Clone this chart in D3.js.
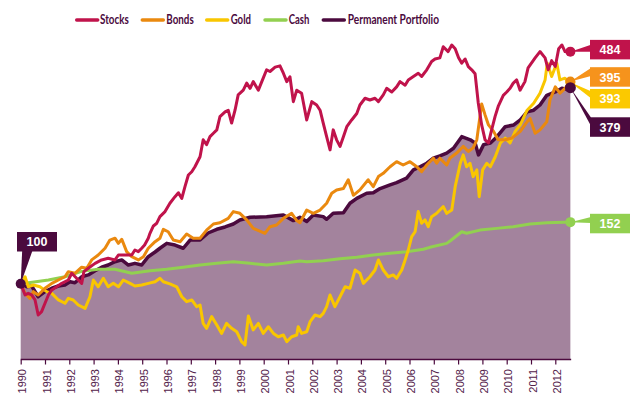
<!DOCTYPE html>
<html><head><meta charset="utf-8">
<script src="https://cdn.jsdelivr.net/npm/d3@7"></script>
<style>body{margin:0;background:#fff}svg{display:block}</style>
</head><body>
<svg id="chart" width="641" height="401"></svg>
<script>
// ---------- DATA (index, Jan 1990 = 100) ----------
const tickYears = d3.range(1990, 2013);
const seriesNames = ["Stocks", "Bonds", "Gold", "Cash", "Permanent Portfolio"];
const startValue = 100;
const endValues = [484, 395, 393, 152, 379];

const stocks = [[1990.00,100],[1990.18,92.7],[1990.31,93.7],[1990.45,92.7],[1990.59,89.6],[1990.72,80.9],[1990.86,82.8],[1991.00,87.6],[1991.14,92.7],[1991.28,95.9],[1991.48,98.0],[1991.69,100.3],[1991.96,102.6],[1992.10,107.4],[1992.30,103.8],[1992.51,100.3],[1992.60,108.6],[1992.78,111.1],[1993.06,114.9],[1993.33,117.6],[1993.60,118.9],[1993.88,117.6],[1994.02,121.6],[1994.29,121.6],[1994.57,121.6],[1994.70,125.8],[1994.84,124.4],[1994.98,127.3],[1995.10,130.1],[1995.25,136.3],[1995.32,140.9],[1995.46,148.1],[1995.60,150.9],[1995.73,157.8],[1995.94,163.3],[1996.14,172.8],[1996.35,180.7],[1996.49,185.6],[1996.63,178.6],[1996.76,193.4],[1996.90,209.4],[1997.04,214.1],[1997.17,221.5],[1997.38,237.0],[1997.51,265.9],[1997.65,257.3],[1997.79,271.7],[1997.93,278.0],[1998.07,284.5],[1998.20,311.2],[1998.41,321.4],[1998.54,325.1],[1998.68,297.9],[1998.82,325.1],[1998.95,360.9],[1999.16,372.5],[1999.30,390.8],[1999.44,377.2],[1999.57,394.8],[1999.78,372.5],[1999.98,404.2],[2000.12,427.8],[2000.26,422.9],[2000.47,435.6],[2000.67,439.5],[2000.81,418.0],[2000.95,394.8],[2001.08,408.1],[2001.22,344.6],[2001.36,372.5],[2001.56,365.0],[2001.77,304.3],[2001.98,344.6],[2002.18,336.8],[2002.32,325.1],[2002.45,297.9],[2002.59,271.7],[2002.73,248.3],[2002.86,284.5],[2003.00,265.9],[2003.14,254.2],[2003.28,271.7],[2003.42,290.6],[2003.62,304.3],[2003.83,318.0],[2003.96,336.8],[2004.17,352.6],[2004.37,348.5],[2004.58,352.6],[2004.72,344.6],[2004.92,360.9],[2005.06,377.2],[2005.27,368.0],[2005.47,381.0],[2005.61,394.8],[2005.82,385.4],[2005.95,399.4],[2006.16,408.7],[2006.36,418.0],[2006.50,408.7],[2006.71,427.8],[2006.91,452.5],[2007.05,460.4],[2007.25,464.0],[2007.39,500.2],[2007.59,484.2],[2007.74,506.4],[2007.88,493.9],[2008.02,464.0],[2008.15,447.6],[2008.29,460.4],[2008.42,437.3],[2008.56,427.8],[2008.70,416.3],[2008.83,341.4],[2008.97,294.2],[2009.11,265.9],[2009.25,260.3],[2009.38,284.5],[2009.52,311.2],[2009.65,333.5],[2009.86,359.7],[2010.00,368.0],[2010.14,377.2],[2010.27,390.8],[2010.41,399.4],[2010.55,372.5],[2010.75,394.8],[2010.88,433.6],[2011.17,464.0],[2011.37,484.2],[2011.58,464.0],[2011.71,427.8],[2011.85,455.2],[2012.00,437.3],[2012.14,493.9],[2012.27,506.4],[2012.40,484.2],[2012.62,484]];

const bonds = [[1990.00,100],[1990.18,93.7],[1990.38,90.6],[1990.52,94.8],[1990.72,92.7],[1991.00,97.0],[1991.28,100.3],[1991.55,102.6],[1991.82,104.9],[1991.96,108.6],[1992.23,107.4],[1992.51,111.9],[1992.72,111.1],[1992.92,117.6],[1993.19,121.6],[1993.47,127.3],[1993.67,134.6],[1993.88,136.3],[1994.02,131.6],[1994.16,135.3],[1994.36,124.4],[1994.57,120.2],[1994.84,117.6],[1995.05,120.2],[1995.25,127.3],[1995.53,133.1],[1995.73,136.3],[1995.87,144.8],[1996.07,142.4],[1996.28,134.6],[1996.56,133.1],[1996.83,140.2],[1997.10,136.3],[1997.38,136.3],[1997.65,144.0],[1997.93,150.1],[1998.20,151.4],[1998.54,156.0],[1998.75,163.3],[1999.02,161.4],[1999.30,154.3],[1999.57,145.7],[2000.05,140.9],[2000.26,147.4],[2000.53,149.1],[2000.81,156.0],[2001.15,161.4],[2001.36,153.6],[2001.49,151.4],[2001.77,165.0],[2002.04,161.4],[2002.32,165.0],[2002.59,172.8],[2002.80,184.9],[2003.00,189.2],[2003.28,191.0],[2003.48,202.7],[2003.69,182.4],[2003.96,189.2],[2004.30,202.7],[2004.51,193.4],[2004.72,207.1],[2004.92,211.8],[2005.20,221.5],[2005.47,229.2],[2005.74,224.1],[2006.02,229.2],[2006.30,221.5],[2006.50,214.1],[2006.71,224.1],[2006.98,234.7],[2007.12,226.8],[2007.25,234.7],[2007.53,224.1],[2007.67,235.1],[2007.94,243.0],[2008.21,254.2],[2008.42,245.6],[2008.62,251.8],[2008.77,265.9],[2008.97,339.1],[2009.11,314.9],[2009.25,294.2],[2009.46,281.6],[2009.65,265.9],[2009.94,265.9],[2010.21,268.9],[2010.56,281.6],[2010.84,300.6],[2010.96,307.6],[2011.17,278.0],[2011.37,284.5],[2011.65,300.6],[2011.78,348.5],[2012.00,381.0],[2012.19,365.0],[2012.40,377.2],[2012.62,395]];

const gold = [[1990.00,100],[1990.18,104.9],[1990.31,98.0],[1990.52,99.2],[1990.79,98.0],[1991.07,94.8],[1991.28,93.7],[1991.55,89.6],[1991.82,87.6],[1991.96,90.6],[1992.16,89.6],[1992.37,86.6],[1992.65,84.6],[1992.85,91.6],[1992.99,102.6],[1993.19,98.0],[1993.40,103.8],[1993.60,98.0],[1993.81,100.3],[1994.02,98.0],[1994.22,102.6],[1994.50,100.3],[1994.70,98.5],[1994.98,99.2],[1995.25,100.3],[1995.53,101.4],[1995.73,103.8],[1995.87,101.4],[1996.14,99.9],[1996.42,98.0],[1996.63,91.6],[1996.83,88.6],[1997.04,89.6],[1997.24,85.6],[1997.38,86.6],[1997.51,76.4],[1997.65,73.9],[1997.86,80.0],[1998.07,75.6],[1998.27,71.4],[1998.47,76.4],[1998.68,73.9],[1998.89,72.2],[1999.09,67.5],[1999.23,66.0],[1999.37,80.4],[1999.57,73.1],[1999.78,76.4],[1999.98,71.4],[2000.19,74.7],[2000.40,71.4],[2000.60,69.8],[2000.81,70.6],[2000.95,67.5],[2001.15,69.8],[2001.36,70.6],[2001.42,74.7],[2001.56,71.4],[2001.77,72.2],[2001.91,77.3],[2002.11,80.9],[2002.32,80.0],[2002.45,81.8],[2002.59,85.6],[2002.73,92.7],[2002.93,85.6],[2003.14,91.6],[2003.35,98.0],[2003.55,97.0],[2003.76,109.8],[2003.96,107.4],[2004.10,100.3],[2004.37,104.9],[2004.58,109.8],[2004.72,117.6],[2004.92,109.8],[2005.13,104.9],[2005.33,106.2],[2005.47,103.8],[2005.68,109.8],[2005.82,117.6],[2005.95,125.8],[2006.09,137.7],[2006.23,142.4],[2006.36,163.3],[2006.50,150.9],[2006.64,154.3],[2006.77,147.4],[2006.91,157.8],[2007.12,161.4],[2007.25,165.0],[2007.39,168.9],[2007.53,161.4],[2007.74,165.0],[2007.88,193.4],[2008.09,226.8],[2008.21,240.0],[2008.35,221.5],[2008.49,226.8],[2008.62,207.1],[2008.77,216.8],[2008.87,180.7],[2009.01,216.8],[2009.18,226.8],[2009.33,221.5],[2009.53,237.0],[2009.74,260.3],[2009.94,268.9],[2010.14,260.3],[2010.35,281.6],[2010.56,294.2],[2010.84,325.1],[2011.11,340.7],[2011.37,365.0],[2011.58,399.4],[2011.67,447.6],[2011.85,408.7],[2012.06,447.6],[2012.19,399.4],[2012.40,404.2],[2012.53,394.8],[2012.62,393]];

const cash = [[1990.00,100],[1990.25,100.5],[1991.14,102.6],[1991.82,104.9],[1992.51,108.8],[1993.19,110.4],[1993.88,110.4],[1994.57,107.4],[1995.32,109.3],[1996.01,110.4],[1996.69,111.9],[1997.38,113.6],[1998.07,114.9],[1998.75,116.2],[1999.44,114.9],[2000.12,113.6],[2000.81,114.9],[2001.49,116.7],[2001.77,116.2],[2002.45,117.0],[2003.14,118.6],[2003.83,119.7],[2004.51,121.6],[2005.20,123.0],[2005.88,124.3],[2006.57,126.4],[2006.84,128.1],[2007.53,131.6],[2007.67,133.7],[2008.15,142.4],[2008.35,141.0],[2008.90,144.0],[2009.59,145.7],[2010.27,147.4],[2010.96,150.1],[2011.65,151.4],[2012.33,151.9],[2012.62,152]];

const permanent = [[1990.00,100],[1990.25,98.0],[1990.45,98.5],[1990.72,91.6],[1991.00,94.8],[1991.28,97.0],[1991.55,98.5],[1991.82,99.2],[1992.03,101.4],[1992.23,100.7],[1992.51,104.9],[1992.78,106.2],[1993.06,109.3],[1993.33,111.9],[1993.60,113.6],[1993.88,116.2],[1994.16,117.6],[1994.43,113.6],[1994.70,114.9],[1994.98,113.6],[1995.25,120.2],[1995.53,124.1],[1995.73,127.3],[1996.01,131.6],[1996.35,130.1],[1996.69,127.3],[1996.97,134.6],[1997.38,134.6],[1997.71,141.2],[1998.07,144.8],[1998.41,147.1],[1998.75,150.1],[1999.02,154.3],[1999.44,157.1],[2000.12,157.8],[2000.81,159.6],[2001.22,153.6],[2001.49,157.1],[2001.77,152.6],[2002.04,159.6],[2002.45,157.8],[2002.59,155.0],[2002.86,161.4],[2003.28,162.0],[2003.55,172.8],[2003.83,178.6],[2004.24,184.9],[2004.51,185.6],[2004.79,191.0],[2005.20,195.8],[2005.47,198.8],[2005.88,205.1],[2006.16,216.8],[2006.43,221.5],[2006.71,226.8],[2006.98,234.7],[2007.25,238.4],[2007.53,243.0],[2007.81,251.0],[2008.15,271.7],[2008.50,265.9],[2008.70,260.3],[2008.84,240.0],[2009.05,257.3],[2009.33,260.3],[2009.60,271.7],[2009.94,290.6],[2010.29,294.2],[2010.56,304.3],[2010.84,321.4],[2011.11,325.1],[2011.37,336.8],[2011.65,359.7],[2012.00,368.0],[2012.27,377.2],[2012.48,374.6],[2012.62,379]];

// ---------- STYLE / LAYOUT ----------
const seriesData = [stocks, bonds, gold, cash, permanent];
const lineColors = ["#c0134b", "#ea890f", "#f9c600", "#92d050", "#4b0a3e"];
const boxColors  = ["#c0134b", "#f6931c", "#fbc900", "#92d050", "#4b0a3e"];
const lineWidths = [3, 3, 3, 3, 3.5];
const labelOffsets = [-2, -4.6, 16.4, 1.4, 39.4];   // box centre relative to end point (px)
const wedgeSpans = [[-5, 2], [-9, -1], [-7.5, -0.5], [-6.5, -0.5], [-9.5, -1]]; // relative to box centre
const drawOrder = [4, 3, 2, 1, 0];
const legendPos = [[76.7, 100, 28.7], [142.3, 166.3, 27.4], [206.7, 230.7, 20.3], [265, 288.7, 20.6], [323.3, 347.7, 91.3]];
const purple = "#4b0a3e";
const tickColor = "#52214a";

const svg = d3.select("#chart");
svg.append("rect").attr("width", 641).attr("height", 401).attr("fill", "#fff");

const x = d3.scaleLinear().domain([1990, 2012]).range([20.7, 555.3]);
const y = d3.scaleLog().domain([60, 600]).range([359, 20]);

// area under the Permanent Portfolio
const area = d3.area().x(d => x(d[0])).y0(y(60)).y1(d => y(d[1]));
svg.append("path").datum(permanent).attr("d", area).attr("fill", "#a3839d");

// axis
const xAxis = d3.axisBottom(x).tickValues(tickYears).tickFormat(d3.format("d")).tickSize(5).tickSizeOuter(0);
const gx = svg.append("g").attr("transform", "translate(0,359.5)").call(xAxis);
gx.select(".domain").remove();
gx.append("line").attr("x1", x(1990)).attr("x2", x(permanent[permanent.length - 1][0]) + 0.8)
  .attr("stroke", purple).attr("stroke-width", 1.5);
gx.selectAll(".tick line").attr("stroke", purple).attr("stroke-width", 1.2);
gx.selectAll(".tick text")
  .attr("transform", "rotate(-90)")
  .attr("x", -9.5).attr("y", 5).attr("dy", 0)
  .attr("text-anchor", "end")
  .attr("fill", tickColor)
  .style("font-family", "'Liberation Sans', Arial, sans-serif")
  .style("font-size", "11px");

// lines
const line = d3.line().x(d => x(d[0])).y(d => y(d[1]));
drawOrder.forEach(i => {
  svg.append("path").datum(seriesData[i]).attr("d", line)
    .attr("fill", "none").attr("stroke", lineColors[i]).attr("stroke-width", lineWidths[i])
    .attr("stroke-linejoin", "round").attr("stroke-linecap", "round");
});

// end labels
const boxX = 590, boxW = 40, boxH = 19.5;
const labelFont = "'Liberation Sans', Arial, sans-serif";
[3, 2, 1, 0, 4].forEach(i => {
  const d = seriesData[i][seriesData[i].length - 1];
  const px = x(d[0]), py = y(d[1]);
  const cy = py + labelOffsets[i];
  svg.append("path")
    .attr("d", d3.line()([[px, py], [boxX + 1, cy + wedgeSpans[i][0]], [boxX + 1, cy + wedgeSpans[i][1]]]) + "Z")
    .attr("fill", boxColors[i]);
  svg.append("circle").attr("cx", px).attr("cy", py).attr("r", i === 4 ? 5.5 : 5).attr("fill", lineColors[i]);
  svg.append("rect").attr("x", boxX).attr("y", cy - boxH / 2).attr("width", boxW).attr("height", boxH).attr("fill", boxColors[i]);
  svg.append("text").attr("x", boxX + boxW / 2).attr("y", cy + 4.6).attr("text-anchor", "middle")
    .attr("fill", "#fff").style("font-family", labelFont).style("font-weight", "bold").style("font-size", "12.5px")
    .text(endValues[i]);
});

// start label
const s0 = permanent[0];
const sx = x(s0[0]), sy = y(s0[1]);
svg.append("path").attr("d", d3.line()([[sx, sy], [sx + 1.5, 250], [sx + 12, 250]]) + "Z").attr("fill", purple);
svg.append("circle").attr("cx", sx).attr("cy", sy).attr("r", 5).attr("fill", purple);
svg.append("rect").attr("x", 17).attr("y", 232).attr("width", 40).attr("height", 19.5).attr("fill", purple);
svg.append("text").attr("x", 37).attr("y", 246.3).attr("text-anchor", "middle").attr("fill", "#fff")
  .style("font-family", labelFont).style("font-weight", "bold").style("font-size", "12.5px").text(startValue);

// legend
const lg = svg.append("g");
seriesNames.forEach((name, i) => {
  const [sx0, tx, tw] = legendPos[i];
  lg.append("line").attr("x1", sx0).attr("x2", sx0 + 21).attr("y1", 20).attr("y2", 20)
    .attr("stroke", lineColors[i]).attr("stroke-width", 3.5).attr("stroke-linecap", "round");
  lg.append("text").attr("x", tx).attr("y", 24.4).attr("fill", purple)
    .attr("textLength", tw).attr("lengthAdjust", "spacingAndGlyphs")
    .style("font-family", "Lato, 'Open Sans', sans-serif").style("font-weight", "bold").style("font-size", "13px")
    .text(name);
});
</script>
</body></html>
